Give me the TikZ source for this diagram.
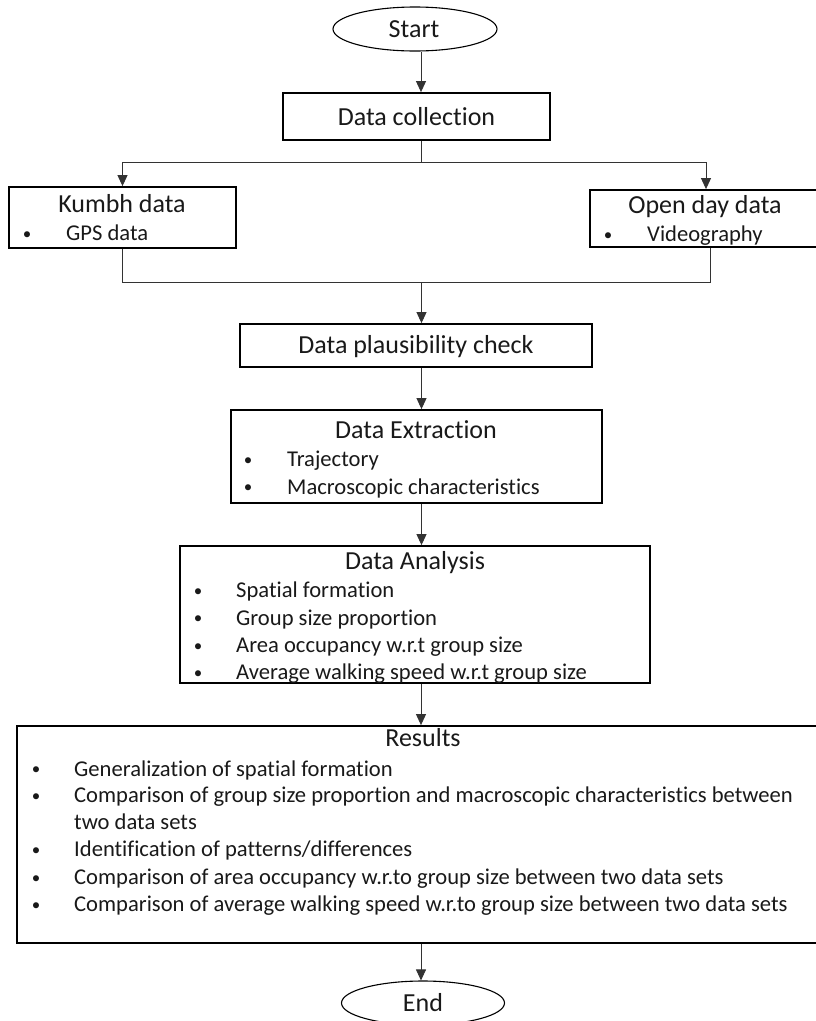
\documentclass[tikz,border=0pt]{standalone}
\usepackage{fontspec}
\setmainfont{Carlito}[Ligatures=NoCommon]
\usetikzlibrary{arrows.meta,shapes.geometric}
\begin{document}
\begin{tikzpicture}[x=1pt,y=-1pt,
  box/.style={draw=black,line width=1.8pt,rectangle,inner sep=0pt},
  term/.style={draw=black,line width=1.1pt,ellipse,inner sep=0pt,minimum width=164pt,minimum height=44pt},
  ttl/.style={font=\fontsize{26}{31}\selectfont,inner sep=0pt,anchor=base,text=black!90},
  itm/.style={font=\fontsize{22.6}{27}\selectfont,inner sep=0pt,anchor=base west,text=black!90},
  bul/.style={font=\fontsize{17}{27}\selectfont,inner sep=0pt,anchor=base,text=black!90},
  conn/.style={draw=black!80,line width=0.9pt},
  arr/.style={conn,-{Triangle[length=11pt,width=10pt]}}]
\useasboundingbox (0,0) rectangle (815,1021);

% ---- shapes ----
\node[term] (start) at (415,29) {};
\node[ttl] (startt) at (414,37.5) {Start};

\node[box,minimum width=267pt,minimum height=47pt] (dc) at (416.5,116.5) {};
\node[ttl] (dct) at (416.5,125.5) {Data collection};

\node[box,minimum width=227pt,minimum height=61pt] (kumbh) at (122.5,217.5) {};
\node[ttl] (kumbht) at (122,212.7) {Kumbh data};
\node[bul] (kumbhb) at (27,239.5) {•};
\node[itm] (kumbhi) at (66,240.7) {GPS data};

\node[box,minimum width=230pt,minimum height=57pt] (open) at (705,218.5) {};
\node[ttl] (opent) at (705,213.5) {Open day data};
\node[bul] (openb) at (608,240.5) {•};
\node[itm] (openi) at (647,241.7) {Videography};

\node[box,minimum width=352pt,minimum height=43pt] (plaus) at (416,345.5) {};
\node[ttl] (plaust) at (416,353.5) {Data plausibility check};

\node[box,minimum width=371pt,minimum height=93pt] (ext) at (416.5,456.5) {};
\node[ttl] (extt) at (416,438) {Data Extraction};
\node[bul] (extb1) at (248,465.5) {•};
\node[itm] (exti1) at (287,466.7) {Trajectory};
\node[bul] (extb2) at (248,492.8) {•};
\node[itm] (exti2) at (287,494) {Macroscopic characteristics};

\node[box,minimum width=470pt,minimum height=137pt] (ana) at (415,614.5) {};
\node[ttl] (anat) at (415,569.3) {Data Analysis};
\node[bul] (anab1) at (198,596.5) {•};
\node[itm] (anai1) at (236,597.7) {Spatial formation};
\node[bul] (anab2) at (198,623.8) {•};
\node[itm] (anai2) at (236,625) {Group size proportion};
\node[bul] (anab3) at (198,651.5) {•};
\node[itm] (anai3) at (236,652.7) {Area occupancy w.r.t group size};
\node[bul] (anab4) at (198,678.1) {•};
\node[itm] (anai4) at (236,679.3) {Average walking speed w.r.t group size};

\node[box,minimum width=813pt,minimum height=217pt] (res) at (423.5,834.5) {};
\node[ttl] (rest) at (423,746.7) {Results};
\node[bul] (resb1) at (36,774.8) {•};
\node[itm] (resi1) at (74,776) {Generalization of spatial formation};
\node[bul] (resb2) at (36,801.5) {•};
\node[itm] (resi2) at (74,802.7) {Comparison of group size proportion and macroscopic characteristics between};
\node[itm] (resi2b) at (74,829.3) {two data sets};
\node[bul] (resb3) at (36,855.5) {•};
\node[itm] (resi3) at (74,856.7) {Identification of patterns/differences};
\node[bul] (resb4) at (36,883.1) {•};
\node[itm] (resi4) at (74,884.3) {Comparison of area occupancy w.r.to group size between two data sets};
\node[bul] (resb5) at (36,910.5) {•};
\node[itm] (resi5) at (74,911.7) {Comparison of average walking speed w.r.to group size between two data sets};

\node[term,minimum width=163pt] (endn) at (423,1003) {};
\node[ttl] (endt) at (423,1011.7) {End};

% ---- connectors ----
\coordinate (axis) at (421,0);
\coordinate (split) at (421,162);
\coordinate (merge) at (421.5,282);
\draw[arr] (start.south -| axis) -- (dc.north -| axis);
\draw[conn] (dc.south -| axis) -- (split);
\draw[arr] (split) -| (kumbh.north);
\draw[arr] (split) -| ([xshift=1pt]open.north);
\draw[conn] (kumbh.south) |- (merge);
\draw[conn] ([xshift=5pt]open.south) |- (merge);
\draw[arr] (merge) -- (plaus.north -| merge);
\draw[arr] (plaus.south -| merge) -- (ext.north -| merge);
\draw[arr] (ext.south -| merge) -- (ana.north -| merge);
\draw[arr] (ana.south -| axis) -- (res.north -| axis);
\draw[arr] (res.south -| axis) -- (endn.north -| axis);
\end{tikzpicture}
\end{document}
